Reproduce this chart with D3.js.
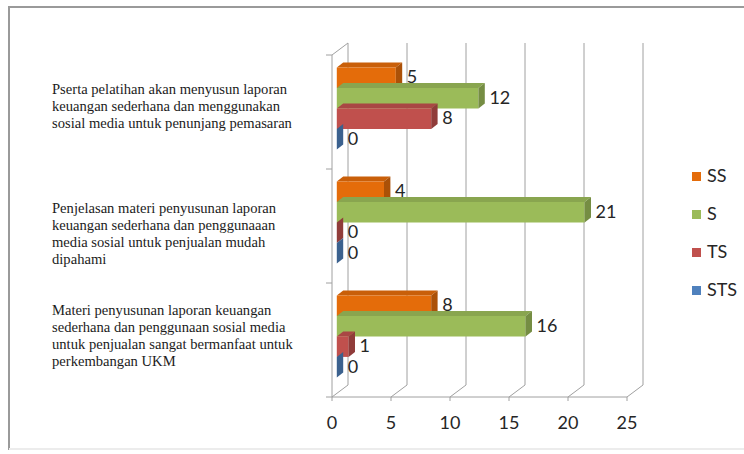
<!DOCTYPE html>
<html>
<head>
<meta charset="utf-8">
<script src="https://cdn.jsdelivr.net/npm/d3@7"></script>
<style>
  html, body { margin: 0; padding: 0; background: #fff; }
  svg { display: block; }
</style>
</head>
<body>
<svg id="chart" width="744" height="454"></svg>
<script>
// ---- data ----
const categories = [
  ["Pserta pelatihan akan menyusun laporan", "keuangan sederhana dan menggunakan", "sosial media untuk penunjang pemasaran"],
  ["Penjelasan materi penyusunan laporan", "keuangan sederhana dan penggunaaan", "media sosial untuk penjualan mudah", "dipahami"],
  ["Materi penyusunan laporan keuangan", "sederhana dan penggunaan sosial media", "untuk penjualan sangat bermanfaat untuk", "perkembangan UKM"]
];
const seriesNames = ["SS", "S", "TS", "STS"];
const valuesSS  = [5, 4, 8];
const valuesS   = [12, 21, 16];
const valuesTS  = [8, 0, 1];
const valuesSTS = [0, 0, 0];
const xTicks = [0, 5, 10, 15, 20, 25];
const colors = ["#E46C0A", "#9BBB59", "#C0504D", "#4F81BD"];

const seriesValues = [valuesSS, valuesS, valuesTS, valuesSTS];

// ---- layout ----
const svg = d3.select("#chart");
const DX = 16, DY = -12;          // depth offset of back wall
const Z0 = 0.3, Z1 = 0.7;         // bar depth range
const x = d3.scaleLinear().domain([0, 25]).range([332, 627]);
const y = d3.scaleBand().domain(d3.range(categories.length)).range([55, 397]).padding(0);
const ys = d3.scaleBand().domain(seriesNames).range([16, y.bandwidth() - 16]).padding(0);
const P = (v, yy, z) => [x(v) + z * DX, yy + z * DY];

// frame
svg.append("rect").attr("x", 9).attr("y", 7).attr("width", 760).attr("height", 442)
  .attr("fill", "#fff").attr("stroke", "#9a9a9a").attr("stroke-width", 2);
svg.append("line").attr("x1", 9).attr("x2", 744).attr("y1", 449).attr("y2", 449)
  .attr("stroke", "#ececec").attr("stroke-width", 2);

const grid = svg.append("g").attr("stroke", "#a0a0a0").attr("stroke-width", 1).attr("fill", "none");
const yTop = y.range()[0], yBot = y.range()[1];
// back wall gridlines + floor diagonals
xTicks.forEach(t => {
  const b1 = P(t, yTop, 1), b2 = P(t, yBot, 1), f = P(t, yBot, 0);
  grid.append("path").attr("d", d3.line()([b1, b2, f]));
  grid.append("line").attr("x1", f[0]).attr("x2", f[0]).attr("y1", f[1]).attr("y2", f[1] + 4);
});
// left wall
const fl0 = P(0, yTop, 0), bl0 = P(0, yTop, 1);
grid.append("path").attr("d", d3.line()([bl0, fl0, P(0, yBot, 0)]));
// front floor edge
grid.append("line").attr("x1", x(0)).attr("x2", x(25)).attr("y1", yBot).attr("y2", yBot);
// category tick marks on left wall
d3.range(categories.length + 1).forEach(i => {
  const yy = yTop + i * y.bandwidth();
  grid.append("line").attr("x1", x(0) - 6).attr("x2", x(0)).attr("y1", yy).attr("y2", yy);
});

// x tick labels
svg.append("g").selectAll("text").data(xTicks).join("text")
  .attr("x", d => x(d)).attr("y", 429)
  .attr("text-anchor", "middle")
  .attr("font-family", "Lato, 'Open Sans', sans-serif").attr("font-size", 18)
  .attr("fill", "#262626").text(d => d);

// bars
const bars = svg.append("g");
categories.forEach((c, ci) => {
  seriesNames.forEach((s, si) => {
    const v = seriesValues[si][ci];
    const yt = y(ci) + ys(s), yb = yt + ys.bandwidth();
    const col = d3.color(colors[si]);
    // top face
    bars.append("path")
      .attr("d", d3.line()([P(0, yt, Z0), P(v, yt, Z0), P(v, yt, Z1), P(0, yt, Z1)]) + "Z")
      .attr("fill", col.darker(0.35));
    // front face
    bars.append("path")
      .attr("d", d3.line()([P(0, yt, Z0), P(v, yt, Z0), P(v, yb, Z0), P(0, yb, Z0)]) + "Z")
      .attr("fill", col);
    // end (side) face
    bars.append("path")
      .attr("d", d3.line()([P(v, yt, Z0), P(v, yt, Z1), P(v, yb, Z1), P(v, yb, Z0)]) + "Z")
      .attr("fill", col.darker(0.8));
    // value label
    const lp = P(v, (yt + yb) / 2, Z0);
    bars.append("text")
      .attr("x", lp[0] + 11).attr("y", lp[1] + 1)
      .attr("dominant-baseline", "middle")
      .attr("font-family", "Lato, 'Open Sans', sans-serif").attr("font-size", 18)
      .attr("fill", "#262626").text(v);
  });
});

// category labels
const labelBase = [94, 213, 315];
const cl = svg.append("g").attr("font-family", "'Liberation Serif', 'Times New Roman', serif")
  .attr("font-size", 14.6).attr("fill", "#1c1c1c");
categories.forEach((lines, ci) => {
  const t = cl.append("text").attr("x", 52).attr("y", labelBase[ci]);
  lines.forEach((ln, li) => {
    t.append("tspan").attr("x", 52).attr("dy", li === 0 ? 0 : 17).text(ln);
  });
});

// legend
const lg = svg.append("g");
seriesNames.forEach((s, i) => {
  const yy = 172 + i * 38;
  lg.append("rect").attr("x", 692).attr("y", yy).attr("width", 9).attr("height", 9).attr("fill", colors[i]);
  lg.append("text").attr("x", 707).attr("y", yy + 5).attr("dominant-baseline", "middle")
    .attr("font-family", "Lato, 'Open Sans', sans-serif").attr("font-size", 18)
    .attr("fill", "#262626").text(s);
});
</script>
</body>
</html>
